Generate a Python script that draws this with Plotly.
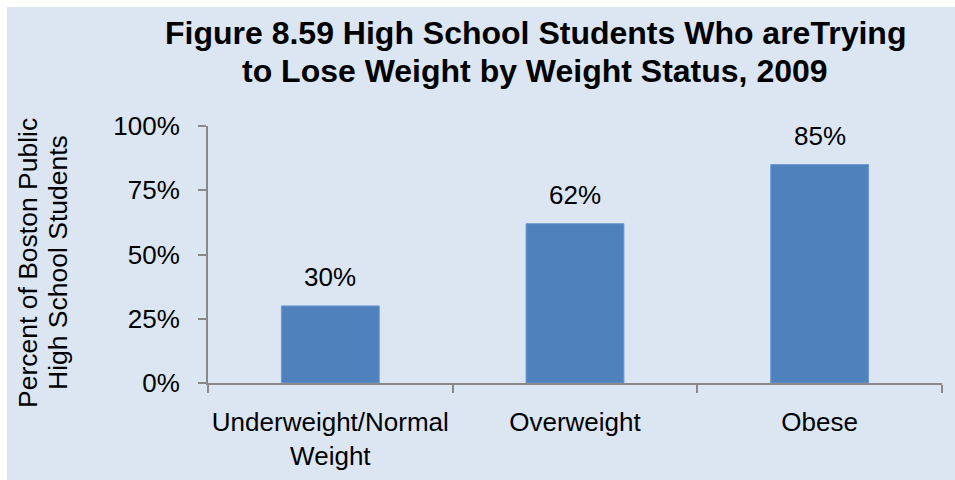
import plotly.graph_objects as go

categories = ["Underweight/Normal<br>Weight", "Overweight", "Obese"]
values = [30, 62, 85]
value_labels = ["30%", "62%", "85%"]
y_tick_vals = [0, 25, 50, 75, 100]
y_tick_text = ["0%", "25%", "50%", "75%", "100%"]
title_lines = ["Figure 8.59 High School Students Who areTrying",
               "to Lose Weight by Weight Status, 2009"]
y_title_lines = ["Percent of Boston Public", "High School Students"]

W, H = 955, 480
ML, MR, MT, MB = 208, 13, 126, 97
PW, PH = W - ML - MR, H - MT - MB

BG = "#DCE6F2"
BAR = "#4F81BD"
AX = "#898989"
FONT = "Liberation Sans, Arial, sans-serif"

def px_x(p):
    return (p - ML) / PW

def px_y(p):
    return (H - MB - p) / PH

fig = go.Figure()
fig.add_trace(go.Bar(
    x=categories, y=values, marker=dict(color=BAR, line=dict(color="#6F99CF", width=1)),
    width=0.4, hoverinfo="skip",
))

annotations = []
for c, v, t in zip(categories, values, value_labels):
    annotations.append(dict(x=c, y=v, xref="x", yref="y", text=t, showarrow=False,
                            yanchor="bottom", yshift=12,
                            font=dict(family=FONT, size=26, color="#000000")))
for i, line in enumerate(y_title_lines):
    annotations.append(dict(x=px_x(28 + 30 * i), y=px_y(263), xref="paper", yref="paper",
                            text=line, textangle=-90, showarrow=False,
                            xanchor="center", yanchor="middle",
                            font=dict(family=FONT, size=26.5, color="#000000")))
for i, line in enumerate(title_lines):
    annotations.append(dict(x=px_x(535), y=px_y(33 + 38 * i), xref="paper", yref="paper",
                            text="<b>" + line + "</b>", showarrow=False,
                            xanchor="center", yanchor="middle",
                            font=dict(family=FONT, size=32, color="#000000")))

fig.update_layout(
    width=W, height=H,
    margin=dict(l=ML, r=MR, t=MT, b=MB, pad=0, autoexpand=False),
    paper_bgcolor="white",
    plot_bgcolor="rgba(0,0,0,0)",
    showlegend=False,
    font=dict(family=FONT, size=26, color="#000000"),
    shapes=[dict(type="rect", xref="paper", yref="paper", layer="below",
                 x0=px_x(7), x1=px_x(W + 5), y0=px_y(H + 5), y1=px_y(7),
                 fillcolor=BG, line=dict(width=0))],
    annotations=annotations,
    xaxis=dict(showline=True, linecolor=AX, linewidth=2, ticks="outside", ticklen=8,
               tickcolor=AX, tickwidth=2, tickson="boundaries", showgrid=False,
               automargin=False, tickangle=0,
               ticklabelstandoff=15, tickfont=dict(family=FONT, size=26, color="#000000"),
               fixedrange=True),
    yaxis=dict(range=[0, 100], tickvals=y_tick_vals, ticktext=y_tick_text,
               showline=True, linecolor=AX, linewidth=2, ticks="outside", ticklen=8,
               tickcolor=AX, tickwidth=2, showgrid=False, zeroline=False,
               automargin=False,
               ticklabelstandoff=13, tickfont=dict(family=FONT, size=26, color="#000000"),
               fixedrange=True),
    bargap=0.6,
)

fig.write_html("out.html", config={"displayModeBar": False},
               post_script="document.body.style.margin='0';document.body.style.overflow='hidden';")
